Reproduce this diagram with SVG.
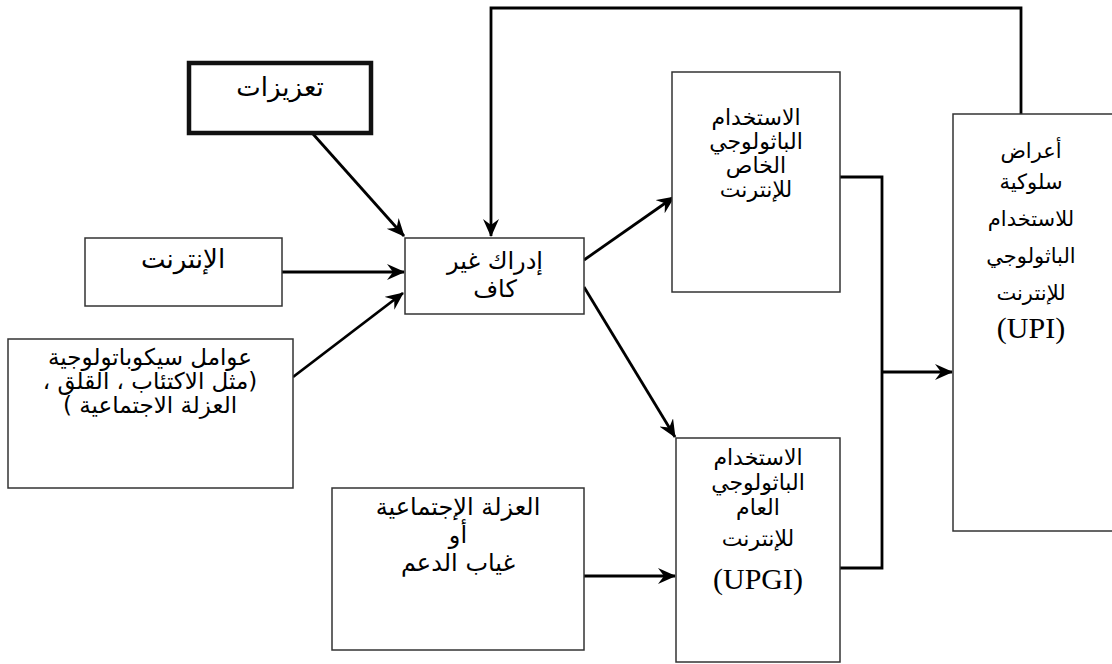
<svg xmlns="http://www.w3.org/2000/svg" width="1112" height="664" viewBox="0 0 1112 664">
<style>
.box{fill:#fff;stroke:#333;stroke-width:1.5}
.thick{fill:#fff;stroke:#111;stroke-width:4.5}
.ar{font-family:"DejaVu Sans","Noto Sans",sans-serif;font-size:19px;fill:#000;text-anchor:middle;direction:rtl}
.s26{font-size:26px}
.s24{font-size:24px}
.s23{font-size:23px}
.s22{font-size:22px}
.s21{font-size:21px}
.lat{font-family:"Liberation Serif","Times New Roman",serif;font-size:30px;fill:#000;text-anchor:middle}
.c{fill:none;stroke:#000;stroke-width:2.8}
</style>
<defs>
<marker id="arr" markerUnits="userSpaceOnUse" markerWidth="20" markerHeight="18" refX="17" refY="8" orient="auto">
<path d="M0,0 L18,8 L0,16 L6,8 z" fill="#000"/>
</marker>
</defs>
<rect width="1112" height="664" fill="#fff"/>
<g id="connectors">
<line class="c" x1="313" y1="134" x2="404" y2="236" marker-end="url(#arr)"/>
<line class="c" x1="282" y1="272" x2="404" y2="272" marker-end="url(#arr)"/>
<line class="c" x1="293" y1="377" x2="403" y2="293" marker-end="url(#arr)"/>
<line class="c" x1="584" y1="260" x2="674" y2="197" marker-end="url(#arr)"/>
<line class="c" x1="584" y1="287" x2="675" y2="437" marker-end="url(#arr)"/>
<line class="c" x1="584" y1="576" x2="675" y2="576" marker-end="url(#arr)"/>
<polyline class="c" points="840,177 882,177 882,568 840,568"/>
<line class="c" x1="882" y1="372" x2="952" y2="372" marker-end="url(#arr)"/>
<polyline class="c" points="1021,114 1021,8 491,8 491,236" marker-end="url(#arr)"/>
</g>
<g id="node-reinforcements">
<rect class="thick" x="189" y="63" width="182" height="70"/>
<text class="ar s26" x="280" y="96">تعزيزات</text>
</g>
<g id="node-internet">
<rect class="box" x="85" y="238" width="197" height="68"/>
<text class="ar s26" x="183" y="268">الإنترنت</text>
</g>
<g id="node-psychopathology">
<rect class="box" x="8" y="339" width="285" height="149"/>
<text class="ar s23" x="150" y="365">عوامل سيكوباتولوجية</text>
<text class="ar s23" x="150" y="389">(مثل الاكتئاب ، القلق ،</text>
<text class="ar s23" x="150" y="413">العزلة الاجتماعية )</text>
</g>
<g id="node-cognition">
<rect class="box" x="405" y="238" width="179" height="76"/>
<text class="ar s24" x="495" y="269">إدراك غير</text>
<text class="ar s24" x="495" y="297">كاف</text>
</g>
<g id="node-specific">
<rect class="box" x="672" y="72" width="168" height="220"/>
<text class="ar s22" x="756" y="125">الاستخدام</text>
<text class="ar s22" x="756" y="149">الباثولوجي</text>
<text class="ar s22" x="756" y="173">الخاص</text>
<text class="ar s22" x="756" y="197">للإنترنت</text>
</g>
<g id="node-isolation">
<rect class="box" x="332" y="488" width="252" height="162"/>
<text class="ar s24" x="458" y="515">العزلة الإجتماعية</text>
<text class="ar s24" x="458" y="543">أو</text>
<text class="ar s24" x="458" y="571">غياب الدعم</text>
</g>
<g id="node-upgi">
<rect class="box" x="676" y="438" width="164" height="224"/>
<text class="ar s22" x="758" y="465">الاستخدام</text>
<text class="ar s22" x="758" y="490">الباثولوجي</text>
<text class="ar s22" x="758" y="515">العام</text>
<text class="ar s22" x="758" y="546">للإنترنت</text>
<text class="lat" x="758" y="589">(UPGI)</text>
</g>
<g id="node-upi">
<rect class="box" x="953" y="114" width="160" height="417"/>
<text class="ar s21" x="1031" y="158">أعراض</text>
<text class="ar s21" x="1031" y="189">سلوكية</text>
<text class="ar s21" x="1031" y="226">للاستخدام</text>
<text class="ar s21" x="1031" y="263">الباثولوجي</text>
<text class="ar s21" x="1031" y="300">للإنترنت</text>
<text class="lat" x="1031" y="338">(UPI)</text>
</g>
</svg>
